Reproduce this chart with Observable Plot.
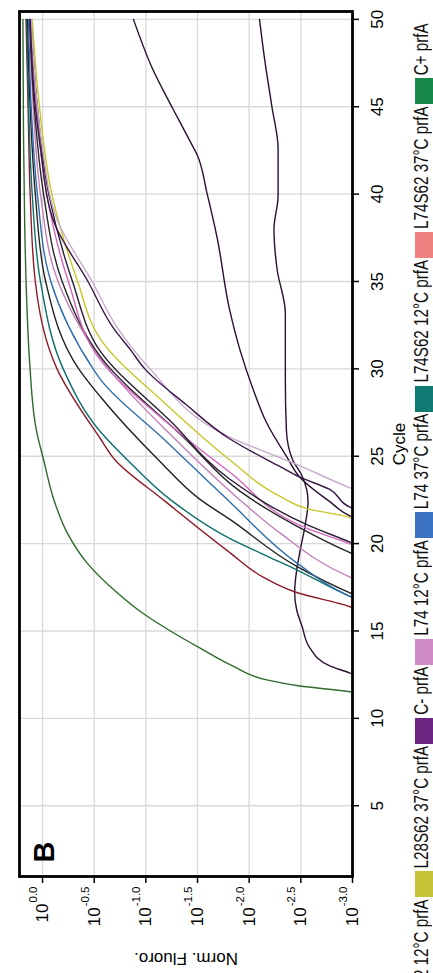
<!DOCTYPE html>
<html><head><meta charset="utf-8">
<script src="https://cdn.jsdelivr.net/npm/d3@7"></script>
<script src="https://cdn.jsdelivr.net/npm/@observablehq/plot@0.6"></script>
<style>
html,body{margin:0;padding:0;width:433px;height:973px;overflow:hidden;background:#fff}
#rot{position:absolute;left:0;top:0;width:973px;height:433px;transform-origin:0 0;transform:translate(0,973px) rotate(-90deg);overflow:hidden;background:#fff;font-family:"Liberation Sans",Arial,sans-serif}
#chart{position:absolute;left:0;top:0}
#legend{position:absolute;top:410px;left:-78px;display:flex;align-items:flex-start;white-space:nowrap}
.sw{display:inline-block;width:26px;height:30px;margin-top:5px;flex:none}
.lt{display:inline-block;font-size:15.2px;line-height:1.15;transform:scaleY(1.28);transform-origin:0 0;margin:0 2px 0 3px;color:#111;flex:none}
</style></head>
<body><div id="rot"><div id="chart"></div><div id="legend"></div></div>
<script>
// ---- tick values ----
const cycleTicks = [5, 10, 15, 20, 25, 30, 35, 40, 45, 50];
const fluoroExponents = [0, -0.5, -1, -1.5, -2, -2.5, -3];

// ---- legend ----
const legendLabels = ["L28S62 12°C prfA", "L28S62 37°C prfA", "C- prfA", "L74 12°C prfA", "L74 37°C prfA", "L74S62 12°C prfA", "L74S62 37°C prfA", "C+ prfA"];
const legendColors = ["#e9a23b", "#c4c336", "#6b2580", "#d08cc4", "#3b72c2", "#0f7a72", "#ef8080", "#17894b"];

// ---- curves: cycles and log10(Norm. Fluoro.) ----
const posCycles = [11.3, 11.5, 11.85, 12.2, 13.0, 14.0, 15.1, 16.1, 17.2, 18.9, 20.6, 22.5, 24.8, 26.5, 30.4, 34.2, 38, 44, 50];
const posLog    = [-3.1, -3.0, -2.49, -2.17, -1.84, -1.53, -1.21, -0.95, -0.72, -0.43, -0.24, -0.11, -0.01, 0.06, 0.125, 0.155, 0.172, 0.185, 0.19];

const negACycles = [12.4, 12.6, 13.0, 14.0, 15.3, 16.2, 17.2, 18.5, 19.5, 21.0, 22.4, 23.9, 24.8, 26.5, 29.4, 33.2, 35.7, 38, 39.9, 42.6, 45, 47.7, 50];
const negALog    = [-3.05, -2.97, -2.78, -2.59, -2.51, -2.46, -2.44, -2.46, -2.49, -2.54, -2.57, -2.51, -2.42, -2.36, -2.35, -2.35, -2.27, -2.24, -2.28, -2.28, -2.22, -2.15, -2.10];

const negBCycles = [21.4, 21.6, 22.4, 23.8, 25, 26.9, 28.8, 31.1, 33.4, 37.5, 40.1, 42.2, 43, 44.9, 47.1, 50];
const negBLog    = [-3.05, -2.97, -2.78, -2.49, -2.36, -2.17, -2.04, -1.91, -1.81, -1.69, -1.59, -1.50, -1.43, -1.26, -1.07, -0.88];

const redCycles = [16.2, 16.4, 17.2, 18.1, 19.5, 22.5, 24.8, 26.0, 30, 35, 40, 45, 50];
const redLog    = [-3.05, -2.97, -2.46, -2.13, -1.81, -1.17, -0.70, -0.56, -0.14, 0.07, 0.12, 0.14, 0.16];

const tealCycles = [16.8, 17.0, 18.5, 19.4, 20.3, 22.5, 24.8, 26.4, 30, 35, 40, 45, 50];
const tealLog    = [-3.05, -2.97, -2.46, -2.13, -1.81, -1.24, -0.82, -0.56, -0.20, 0.02, 0.10, 0.135, 0.155];

const dark1Cycles = [17.0, 17.2, 18.7, 21.4, 22.5, 24.8, 28.4, 30, 35, 40, 45, 50];
const dark1Log    = [-3.05, -2.97, -2.46, -1.81, -1.53, -1.12, -0.56, -0.35, -0.03, 0.07, 0.12, 0.145];

const blueCycles = [16.8, 17.0, 18.9, 22.4, 26, 29.4, 30, 35, 40, 45, 50];
const blueLog    = [-3.05, -2.97, -2.46, -1.81, -1.17, -0.56, -0.49, -0.08, 0.05, 0.11, 0.135];

const mauveCycles = [17.9, 18.1, 20.6, 22.5, 26, 30, 35, 40, 45, 50];
const mauveLog    = [-3.05, -2.97, -2.30, -1.91, -1.28, -0.64, -0.15, 0.02, 0.09, 0.125];

const dark2Cycles = [19.3, 19.5, 21, 23, 26, 30.7, 35, 40, 45, 50];
const dark2Log    = [-3.05, -2.97, -2.46, -1.91, -1.38, -0.56, -0.19, -0.01, 0.08, 0.125];

const pinkCycles = [19.8, 20.0, 20.8, 24.1, 27, 30.5, 35, 40, 45, 50];
const pinkLog    = [-3.05, -2.97, -2.59, -1.81, -1.19, -0.56, -0.25, -0.04, 0.06, 0.12];

const dark3Cycles = [19.9, 20.1, 21.0, 23.7, 27, 31, 35, 40, 45, 50];
const dark3Log    = [-3.05, -2.97, -2.59, -1.81, -1.24, -0.56, -0.29, -0.06, 0.05, 0.11];

const yellowCycles = [21.3, 21.5, 22.0, 22.7, 24.8, 28, 31.7, 35, 40, 45, 50];
const yellowLog    = [-3.05, -2.97, -2.56, -2.30, -1.81, -1.19, -0.56, -0.34, -0.09, 0.03, 0.10];

const lilacCycles = [23.0, 23.2, 24.7, 26.1, 30, 32.3, 35, 38.4, 42.6, 45, 50];
const lilacLog    = [-3.05, -2.97, -2.39, -1.81, -1.04, -0.73, -0.48, -0.15, 0.0, 0.05, 0.11];

const purpleCycles = [21.9, 22.1, 23.1, 23.8, 24.4, 26.0, 28, 30, 31.1, 32.3, 35, 38.4, 42.6, 45, 50];
const purpleLog    = [-3.05, -2.97, -2.78, -2.49, -2.30, -1.81, -1.38, -0.99, -0.85, -0.69, -0.44, -0.11, 0.02, 0.07, 0.12];

const curves = [
  {name: "C+ prfA", color: "#2f6a2c", cycles: posCycles, log: posLog},
  {name: "C- prfA a", color: "#2a1030", cycles: negACycles, log: negALog},
  {name: "C- prfA b", color: "#2a1030", cycles: negBCycles, log: negBLog},
  {name: "red", color: "#8e1b2a", cycles: redCycles, log: redLog},
  {name: "teal", color: "#0c6f6a", cycles: tealCycles, log: tealLog},
  {name: "dark1", color: "#222222", cycles: dark1Cycles, log: dark1Log},
  {name: "blue", color: "#2f6db0", cycles: blueCycles, log: blueLog},
  {name: "mauve", color: "#c47fb9", cycles: mauveCycles, log: mauveLog},
  {name: "dark2", color: "#262626", cycles: dark2Cycles, log: dark2Log},
  {name: "pink", color: "#d466c0", cycles: pinkCycles, log: pinkLog},
  {name: "dark3", color: "#2b1d33", cycles: dark3Cycles, log: dark3Log},
  {name: "yellow", color: "#c9c62a", cycles: yellowCycles, log: yellowLog},
  {name: "lilac", color: "#c6aacc", cycles: lilacCycles, log: lilacLog},
  {name: "purple", color: "#3a1646", cycles: purpleCycles, log: purpleLog}
];

const fluoroTicks = fluoroExponents.map(e => Math.pow(10, e));

const lineMarks = curves.map(c => {
  const rows = c.cycles.map((cy, i) => ({cycle: cy, value: Math.pow(10, c.log[i])}));
  return Plot.line(rows, {x: "cycle", y: "value", stroke: c.color, strokeWidth: 1.4, curve: "monotone-x", clip: true});
});

const plot = Plot.plot({
  width: 973, height: 433,
  marginLeft: 96, marginRight: 12, marginTop: 19, marginBottom: 81,
  style: {fontFamily: "'Liberation Sans', Arial, sans-serif", fontSize: "17px", color: "black", background: "white", overflow: "visible"},
  x: {domain: [0.95, 50.45]},
  y: {type: "log", domain: [1e-3, Math.pow(10, 0.223)]},
  marks: [
    Plot.gridX(cycleTicks, {stroke: "#d9d9d9", strokeOpacity: 1, strokeWidth: 1.3}),
    Plot.gridY(fluoroTicks, {stroke: "#d9d9d9", strokeOpacity: 1, strokeWidth: 1.3}),
    ...lineMarks,
    Plot.frame({stroke: "black", strokeWidth: 2.8}),
    Plot.axisX(cycleTicks, {tickSize: 7, tickPadding: 11, strokeWidth: 1.5, label: "Cycle", labelAnchor: "center", labelOffset: 52, labelArrow: "none"}),
    Plot.axisY(fluoroTicks, {tickSize: 6, tickPadding: 4, strokeWidth: 1.5, tickFormat: d => Math.log10(d).toFixed(1), label: "Norm. Fluoro.", labelAnchor: "center", labelOffset: 89, labelArrow: "none"}),
    Plot.text(["B"], {text: d => d, frameAnchor: "top-left", dx: 14, dy: 14, fontSize: 29, fontWeight: "bold", textAnchor: "start", lineAnchor: "top", fill: "black"})
  ]
});
document.getElementById("chart").append(plot);

// superscript exponents on the log tick labels
const ns = "http://www.w3.org/2000/svg";
plot.querySelectorAll('g[aria-label="y-axis tick label"] text').forEach(t => {
  const s = t.textContent;
  t.textContent = "";
  const a = document.createElementNS(ns, "tspan"); a.textContent = "10";
  const b = document.createElementNS(ns, "tspan"); b.textContent = s;
  b.setAttribute("font-size", "11.5"); b.setAttribute("dy", "-11"); b.setAttribute("dx", "1");
  t.append(a, b);
});

// legend
const legend = document.getElementById("legend");
legendLabels.forEach((lab, i) => {
  const sw = document.createElement("span"); sw.className = "sw"; sw.style.background = legendColors[i];
  const tx = document.createElement("span"); tx.className = "lt"; tx.textContent = lab;
  legend.append(sw, tx);
});
</script></body></html>
